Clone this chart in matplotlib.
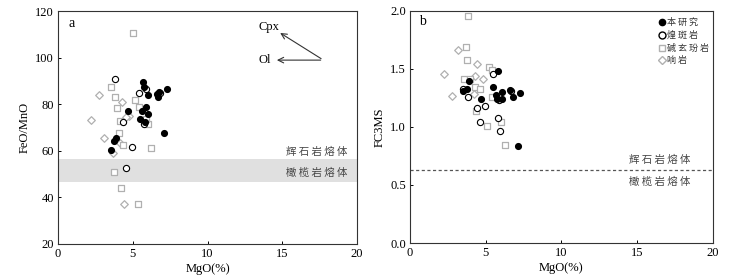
import matplotlib.pyplot as plt
from matplotlib.lines import Line2D

plt.rcParams['font.family'] = ['Liberation Serif', 'Noto Sans CJK SC']
plt.rcParams['axes.linewidth'] = 0.8
cjk = ['Noto Sans CJK SC', 'DejaVu Sans']

# panel a: MgO vs FeO/MnO
a_black_x = [3.56, 3.73, 3.87, 4.69, 5.71, 5.76, 6.04, 5.47, 5.62, 5.91, 6.02, 5.84, 6.6, 6.76, 6.71, 7.27, 7.11]
a_black_y = [60.3, 64.3, 65.6, 76.9, 89.5, 87.2, 84.0, 73.7, 76.9, 78.6, 75.6, 72.3, 84.3, 85.2, 83.2, 86.5, 67.7]
a_open_x = [3.82, 4.38, 4.93, 4.58, 5.44, 5.73, 6.8, 5.9]
a_open_y = [90.8, 72.1, 61.5, 52.4, 84.9, 71.3, 84.8, 86.3]
a_sq_x = [5.04, 3.53, 3.82, 3.93, 5.16, 5.44, 4.18, 6.04, 4.09, 4.36, 6.22, 3.76, 4.24, 5.36, 5.9]
a_sq_y = [110.7, 87.3, 83.0, 78.2, 81.6, 78.9, 72.9, 71.6, 67.4, 62.4, 61.3, 51.0, 44.1, 36.9, 73.5]
a_dia_x = [2.76, 2.22, 4.31, 4.78, 4.55, 3.11, 4.13, 3.69, 4.4]
a_dia_y = [84.0, 73.2, 81.0, 74.9, 74.3, 65.6, 63.4, 59.1, 37.0]
band_lo, band_hi = 46.7, 56.2

# panel b: MgO vs FC3MS
b_black_x = [3.9, 3.74, 5.79, 5.51, 4.71, 5.75, 6.08, 6.08, 6.63, 6.8, 7.29, 7.14, 5.66, 3.5]
b_black_y = [1.397, 1.328, 1.478, 1.345, 1.238, 1.238, 1.304, 1.238, 1.316, 1.255, 1.293, 0.832, 1.275, 1.31]
b_open_x = [5.51, 3.85, 4.41, 4.98, 4.60, 5.79, 5.95, 5.9, 3.52, 6.7]
b_open_y = [1.455, 1.255, 1.159, 1.18, 1.043, 1.081, 0.962, 1.229, 1.33, 1.31]
b_sq_x = [3.85, 3.68, 3.77, 3.55, 5.2, 5.42, 4.3, 4.63, 5.42, 4.38, 5.09, 6.04, 6.26, 3.95]
b_sq_y = [1.96, 1.693, 1.58, 1.414, 1.516, 1.49, 1.348, 1.328, 1.258, 1.136, 1.006, 1.041, 0.841, 1.41]
b_dia_x = [3.15, 2.27, 2.78, 4.43, 4.32, 4.85, 4.21]
b_dia_y = [1.661, 1.455, 1.27, 1.542, 1.438, 1.417, 1.281]
b_boundary = 0.63

legend_labels = ['本 研 究', '煌 斑 岩', '碱 玄 玢 岩', '响 岩']
pyrox_label = '辉 石 岩 熔 体'
perid_label = '橄 榄 岩 熔 体'
grey = '#b0b0b0'


def draw_points(ax, bx, by, ox, oy, sx, sy, dx, dy):
    ax.scatter(dx, dy, s=15, marker='D', facecolors='white', edgecolors=grey, linewidths=0.9, zorder=3)
    ax.scatter(sx, sy, s=15, marker='s', facecolors='white', edgecolors=grey, linewidths=0.9, zorder=3)
    ax.scatter(ox, oy, s=20, marker='o', facecolors='white', edgecolors='black', linewidths=0.8, zorder=4)
    ax.scatter(bx, by, s=17, marker='o', color='black', zorder=5)


def style(ax):
    ax.set_xlim(0, 20)
    ax.set_xticks([0, 5, 10, 15, 20])
    ax.tick_params(direction='in', length=2.5, width=0.7, labelsize=9, pad=3)
    for sp in ax.spines.values():
        sp.set_color('#333333')
    ax.set_xlabel('MgO(%)', fontsize=9, labelpad=2)


fig = plt.figure(figsize=(7.46, 2.79), dpi=100)
ax1 = fig.add_axes([0.0777, 0.1265, 0.401, 0.834])
ax2 = fig.add_axes([0.5496, 0.1290, 0.406, 0.832])

# --- a ---
ax1.axhspan(band_lo, band_hi, color='#e0e0e0', lw=0, zorder=1)
draw_points(ax1, a_black_x, a_black_y, a_open_x, a_open_y, a_sq_x, a_sq_y, a_dia_x, a_dia_y)
ax1.set_ylim(20, 120)
ax1.set_yticks([20, 40, 60, 80, 100, 120])
style(ax1)
ax1.set_ylabel('FeO/MnO', fontsize=9, labelpad=3)
ax1.text(0.7, 114.5, 'a', fontsize=10, va='center')
ax1.text(17.3, 59.5, pyrox_label, family=cjk, fontsize=7.5, color='#444444', ha='center', va='center')
ax1.text(17.3, 50.5, perid_label, family=cjk, fontsize=7.5, color='#444444', ha='center', va='center')
arrow = dict(arrowstyle='->', color='#333333', lw=0.8)
ax1.annotate('', xy=(14.7, 111.2), xytext=(17.75, 98.9), arrowprops=arrow)
ax1.annotate('', xy=(14.45, 98.9), xytext=(17.75, 98.9), arrowprops=arrow)
ax1.text(14.1, 113.2, 'Cpx', fontsize=9, ha='center', va='center')
ax1.text(13.8, 98.9, 'Ol', fontsize=9, ha='center', va='center')

# --- b ---
ax2.axhline(b_boundary, color='#555555', lw=0.9, ls=(0, (2.5, 2)), zorder=2)
draw_points(ax2, b_black_x, b_black_y, b_open_x, b_open_y, b_sq_x, b_sq_y, b_dia_x, b_dia_y)
ax2.set_ylim(0, 2.0)
ax2.set_yticks([0.0, 0.5, 1.0, 1.5, 2.0])
ax2.set_yticklabels(['0.0', '0.5', '1.0', '1.5', '2.0'])
style(ax2)
ax2.set_ylabel('FC3MS', fontsize=9, labelpad=3)
ax2.text(0.6, 1.91, 'b', fontsize=10, va='center')
ax2.text(16.5, 0.715, pyrox_label, family=cjk, fontsize=7.5, color='#444444', ha='center', va='center')
ax2.text(16.5, 0.525, perid_label, family=cjk, fontsize=7.5, color='#444444', ha='center', va='center')

handles = [
    Line2D([], [], ls='', marker='o', color='black', markersize=4.5),
    Line2D([], [], ls='', marker='o', mfc='white', mec='black', markersize=5),
    Line2D([], [], ls='', marker='s', mfc='white', mec=grey, markersize=4),
    Line2D([], [], ls='', marker='D', mfc='white', mec=grey, markersize=4),
]
leg = ax2.legend(handles, legend_labels, loc='upper left', bbox_to_anchor=(0.805, 0.985), frameon=False,
                 prop={'family': cjk, 'size': 6.5}, handletextpad=0.1, labelspacing=0.4,
                 borderaxespad=0.0, handlelength=1.0)
for t in leg.get_texts():
    t.set_color('#333333')

fig.savefig('out.png', dpi=100)
